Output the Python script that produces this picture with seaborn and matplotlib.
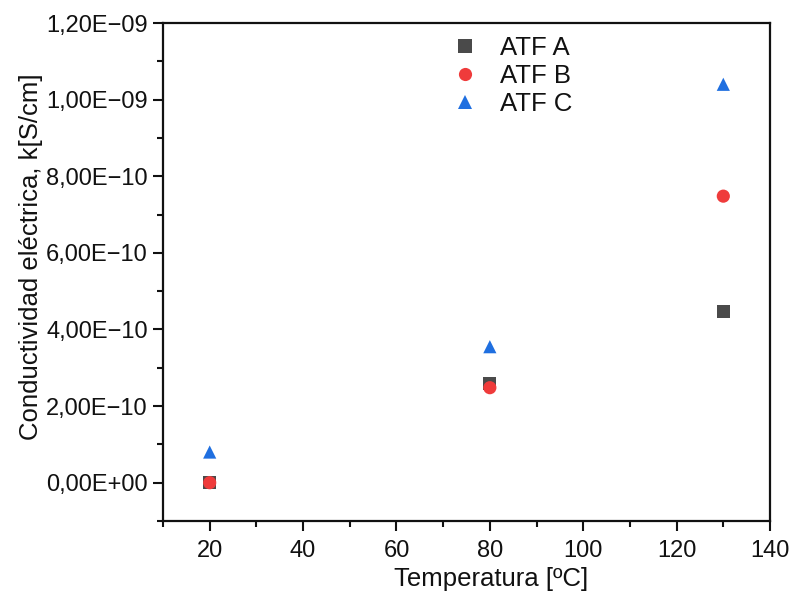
import matplotlib
matplotlib.use("Agg")
import matplotlib.pyplot as plt
import seaborn as sns
import pandas as pd
from matplotlib.ticker import FixedLocator, FixedFormatter, MultipleLocator

temperatures = [20, 80, 130]
atf_a = [0.0, 2.60e-10, 4.47e-10]
atf_b = [0.0, 2.48e-10, 7.48e-10]
atf_c = [0.80e-10, 3.55e-10, 1.04e-9]
series_names = ["ATF A", "ATF B", "ATF C"]
y_tick_values = [0.0, 2e-10, 4e-10, 6e-10, 8e-10, 1.0e-9, 1.2e-9]
y_tick_labels = ["0,00E+00", "2,00E\u221210", "4,00E\u221210", "6,00E\u221210",
                 "8,00E\u221210", "1,00E\u221209", "1,20E\u221209"]
x_tick_values = [20, 40, 60, 80, 100, 120, 140]

df = pd.DataFrame({
    "T": temperatures * 3,
    "k": atf_a + atf_b + atf_c,
    "serie": [s for s in series_names for _ in temperatures],
})

sns.set_theme(style="ticks")
plt.rcParams["font.family"] = ["Liberation Sans", "DejaVu Sans"]

fig = plt.figure(figsize=(8.01, 5.93), dpi=100)
ax = fig.add_axes([163/801, 1 - 521/593, (770-163)/801, (521-23)/593])

palette = {"ATF A": "#4a4a4a", "ATF B": "#ef3b3b", "ATF C": "#1f6fe0"}
markers = {"ATF A": "s", "ATF B": "o", "ATF C": "^"}
sns.scatterplot(data=df, x="T", y="k", hue="serie", style="serie",
                palette=palette, markers=markers, s=90, linewidth=0,
                ax=ax, zorder=3)

ax.set_xlim(10, 140)
ax.set_ylim(-1e-10, 1.2e-9)
ax.xaxis.set_major_locator(FixedLocator(x_tick_values))
ax.xaxis.set_minor_locator(MultipleLocator(10))
ax.yaxis.set_major_locator(FixedLocator(y_tick_values))
ax.yaxis.set_major_formatter(FixedFormatter(y_tick_labels))
ax.yaxis.set_minor_locator(MultipleLocator(1e-10))
ax.yaxis.get_offset_text().set_visible(False)

ink = "#111111"
for sp in ax.spines.values():
    sp.set_linewidth(1.6)
    sp.set_color(ink)
ax.tick_params(axis="both", which="major", direction="out", length=7, width=1.5,
               labelsize=17, colors=ink, labelcolor=ink)
ax.tick_params(axis="x", which="major", pad=7)
ax.tick_params(axis="y", which="major", pad=4)
ax.tick_params(axis="both", which="minor", direction="out", length=4, width=1.5,
               colors=ink)
ax.tick_params(top=False, right=False, which="both")

ax.set_xlabel("Temperatura [ºC]", fontsize=18.5, color=ink, labelpad=3)
ax.set_ylabel("Conductividad eléctrica, k[S/cm]", fontsize=18.5, color=ink, labelpad=2)
ax.xaxis.label.set_x(0.54)
ax.yaxis.label.set_y(0.53)

leg = ax.legend(loc="upper center", bbox_to_anchor=(0.565, 1.0), frameon=False,
                fontsize=18.5, markerscale=1.0, handletextpad=0.38, labelspacing=0.15,
                borderaxespad=0.12, title=None)
for t in leg.get_texts():
    t.set_color(ink)

fig.savefig("out.png", dpi=100)
